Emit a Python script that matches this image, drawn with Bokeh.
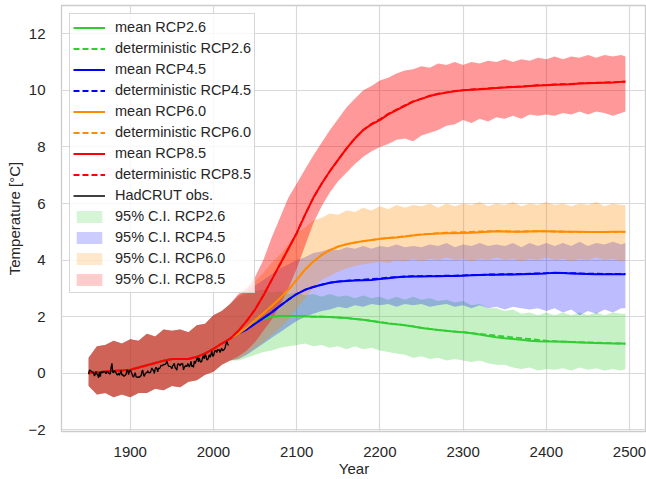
from bokeh.plotting import figure
from bokeh.models import Legend, LegendItem, FixedTicker, Range1d
from bokeh.embed import file_html
from bokeh.resources import INLINE

# ---------------- data ----------------
hist_years = list(range(1850, 2030, 10))
fut_years = list(range(2030, 2500, 10)) + [2495]

hist_mean = [0.0, 0.03, 0.06, 0.08, 0.1, 0.12, 0.2, 0.28, 0.36, 0.44,
             0.5, 0.5, 0.5, 0.58, 0.7, 0.86, 1.05, 1.22]
hist_upper = [0.55, 0.95, 1.0, 1.15, 1.05, 1.2, 1.15, 1.4, 1.3, 1.55,
              1.5, 1.55, 1.45, 1.7, 1.75, 2.05, 2.2, 2.45]
hist_lower = [-0.45, -0.75, -0.7, -0.85, -0.75, -0.85, -0.7, -0.7, -0.55, -0.6,
              -0.45, -0.5, -0.3, -0.25, -0.05, 0.05, 0.3, 0.45]

rcp26_mean = [1.4, 1.6, 1.78, 1.92, 2.0, 2.02, 2.02, 2.02,
              2.01, 2.0, 2.0, 1.99, 1.97, 1.95, 1.92, 1.89, 1.85, 1.8,
              1.76, 1.73, 1.7, 1.65, 1.6, 1.56, 1.53, 1.5, 1.47, 1.45,
              1.41, 1.37, 1.32, 1.27, 1.24, 1.21, 1.18, 1.15, 1.13, 1.12,
              1.12, 1.11, 1.1, 1.09, 1.08, 1.07, 1.06, 1.05, 1.05, 1.04]
rcp26_det = [1.4, 1.6, 1.78, 1.92, 2.0, 2.02, 2.03, 2.02,
             2.01, 2.0, 2.0, 1.99, 1.97, 1.95, 1.92, 1.89, 1.85, 1.81,
             1.77, 1.73, 1.7, 1.66, 1.61, 1.57, 1.53, 1.5, 1.48, 1.45,
             1.42, 1.39, 1.36, 1.33, 1.3, 1.27, 1.24, 1.21, 1.18, 1.15,
             1.13, 1.12, 1.11, 1.1, 1.09, 1.08, 1.07, 1.06, 1.05, 1.05]
rcp26_upper = [2.7, 2.8, 2.9, 2.95, 2.85, 2.9, 2.8, 2.85,
               2.75, 2.8, 2.7, 2.8, 2.7, 2.75, 2.65, 2.75, 2.65, 2.7,
               2.6, 2.7, 2.6, 2.7, 2.6, 2.65, 2.55, 2.6, 2.5, 2.55,
               2.4, 2.45, 2.3, 2.3, 2.2, 2.25, 2.1, 2.15, 2.05, 2.15,
               2.05, 2.15, 2.05, 2.15, 2.05, 2.15, 2.05, 2.15, 2.1, 2.1]
rcp26_lower = [0.45, 0.55, 0.65, 0.75, 0.8, 0.9, 0.95, 1.0,
               1.05, 0.95, 1.0, 0.9, 0.95, 0.85, 0.95, 0.85, 0.9, 0.8,
               0.75, 0.7, 0.65, 0.55, 0.6, 0.5, 0.55, 0.45, 0.5, 0.45,
               0.4, 0.45, 0.35, 0.3, 0.3, 0.2, 0.15, 0.2, 0.1, 0.15,
               0.12, 0.18, 0.1, 0.2, 0.12, 0.18, 0.1, 0.15, 0.1, 0.15]

rcp45_mean = [1.4, 1.55, 1.75, 1.95, 2.15, 2.38, 2.6, 2.8,
              2.95, 3.05, 3.13, 3.2, 3.24, 3.26, 3.28, 3.29, 3.3, 3.33,
              3.36, 3.39, 3.41, 3.42, 3.42, 3.43, 3.43, 3.44, 3.44, 3.45,
              3.46, 3.47, 3.48, 3.48, 3.49, 3.49, 3.5, 3.51, 3.52, 3.53,
              3.55, 3.54, 3.53, 3.52, 3.51, 3.5, 3.5, 3.5, 3.5, 3.5]
rcp45_det = [1.4, 1.55, 1.75, 1.95, 2.15, 2.38, 2.6, 2.8,
             2.95, 3.05, 3.13, 3.2, 3.24, 3.27, 3.29, 3.31, 3.33, 3.35,
             3.38, 3.4, 3.42, 3.43, 3.43, 3.44, 3.44, 3.45, 3.45, 3.46,
             3.47, 3.48, 3.49, 3.49, 3.5, 3.5, 3.51, 3.52, 3.53, 3.54,
             3.55, 3.55, 3.54, 3.53, 3.52, 3.52, 3.51, 3.51, 3.51, 3.51]
rcp45_upper = [2.75, 2.9, 3.1, 3.3, 3.5, 3.7, 3.85, 4.0,
               4.1, 4.25, 4.3, 4.4, 4.35, 4.45, 4.4, 4.5, 4.4, 4.5,
               4.45, 4.55, 4.45, 4.5, 4.45, 4.55, 4.5, 4.6, 4.45, 4.55,
               4.5, 4.6, 4.5, 4.55, 4.5, 4.6, 4.45, 4.6, 4.5, 4.6,
               4.5, 4.6, 4.5, 4.65, 4.5, 4.6, 4.55, 4.65, 4.55, 4.6]
rcp45_lower = [0.5, 0.65, 0.85, 1.05, 1.25, 1.45, 1.65, 1.85,
               2.0, 2.1, 2.2, 2.25, 2.35, 2.3, 2.4, 2.35, 2.45, 2.4,
               2.45, 2.35, 2.45, 2.4, 2.45, 2.35, 2.4, 2.45, 2.35, 2.4,
               2.3, 2.4, 2.3, 2.35, 2.25, 2.35, 2.3, 2.25, 2.3, 2.2,
               2.3, 2.15, 2.25, 2.05, 2.2, 2.1, 2.25, 2.15, 2.3, 2.3]

rcp60_mean = [1.4, 1.62, 1.87, 2.12, 2.38, 2.65, 2.95, 3.3,
              3.66, 3.95, 4.18, 4.35, 4.48, 4.56, 4.62, 4.67, 4.71, 4.75,
              4.78, 4.8, 4.83, 4.87, 4.9, 4.92, 4.94, 4.95, 4.95, 4.96,
              4.97, 4.98, 5.0, 5.02, 5.01, 5.0, 5.0, 5.01, 5.02, 5.02,
              5.01, 5.0, 5.0, 5.0, 4.99, 4.99, 4.99, 5.0, 5.0, 5.0]
rcp60_det = [1.4, 1.62, 1.87, 2.12, 2.38, 2.65, 2.95, 3.3,
             3.66, 3.95, 4.18, 4.35, 4.48, 4.56, 4.62, 4.67, 4.71, 4.75,
             4.78, 4.81, 4.84, 4.88, 4.91, 4.93, 4.95, 4.97, 4.98, 4.99,
             5.0, 5.01, 5.02, 5.03, 5.02, 5.01, 5.01, 5.02, 5.02, 5.02,
             5.01, 5.01, 5.0, 5.0, 5.0, 5.0, 5.0, 5.0, 5.0, 5.0]
rcp60_upper = [2.75, 2.95, 3.25, 3.55, 3.9, 4.2, 4.55, 4.95,
               5.15, 5.4, 5.5, 5.65, 5.6, 5.75, 5.7, 5.85, 5.75, 5.9,
               5.8, 5.95, 5.85, 5.95, 5.9, 6.0, 5.85, 6.0, 5.9, 6.0,
               5.95, 6.05, 5.9, 6.0, 5.95, 6.05, 5.9, 6.0, 5.95, 6.05,
               5.95, 6.0, 5.9, 6.0, 5.95, 6.05, 5.9, 6.0, 5.95, 5.95]
rcp60_lower = [0.5, 0.7, 0.9, 1.1, 1.35, 1.6, 1.9, 2.3,
               2.65, 3.0, 3.3, 3.45, 3.6, 3.7, 3.8, 3.85, 3.9, 3.95,
               3.9, 4.0, 3.95, 4.05, 3.95, 4.05, 4.0, 4.1, 4.0, 4.05,
               3.95, 4.05, 4.0, 4.1, 4.0, 4.05, 3.95, 4.05, 4.0, 4.1,
               4.0, 4.05, 3.95, 4.05, 4.0, 4.1, 4.0, 4.05, 3.95, 4.0]

rcp85_mean = [1.5, 1.85, 2.25, 2.75, 3.3, 3.85, 4.4, 4.95,
              5.6, 6.2, 6.7, 7.15, 7.55, 7.95, 8.3, 8.6, 8.8, 8.95,
              9.15, 9.3, 9.45, 9.6, 9.7, 9.8, 9.87, 9.92, 9.97, 10.0,
              10.02, 10.04, 10.06, 10.08, 10.1, 10.12, 10.13, 10.15, 10.17, 10.18,
              10.2, 10.21, 10.22, 10.24, 10.25, 10.26, 10.27, 10.28, 10.3, 10.3]
rcp85_det = [1.5, 1.85, 2.25, 2.75, 3.3, 3.85, 4.4, 4.95,
             5.6, 6.2, 6.7, 7.15, 7.55, 7.95, 8.3, 8.6, 8.82, 8.98,
             9.17, 9.32, 9.47, 9.61, 9.71, 9.81, 9.88, 9.93, 9.98, 10.01,
             10.03, 10.05, 10.07, 10.09, 10.11, 10.13, 10.14, 10.16, 10.18, 10.19,
             10.21, 10.22, 10.23, 10.25, 10.26, 10.27, 10.28, 10.29, 10.3, 10.31]
rcp85_upper = [2.8, 3.0, 3.4, 4.0, 4.8, 5.5, 6.2, 6.7,
               7.2, 7.7, 8.15, 8.6, 9.0, 9.4, 9.7, 10.0, 10.15, 10.35,
               10.45, 10.6, 10.7, 10.75, 10.85, 10.8, 10.95, 10.9, 11.0, 10.9,
               11.0, 10.95, 11.05, 11.0, 11.1, 11.0, 11.1, 11.05, 11.15, 11.1,
               11.2, 11.1, 11.2, 11.15, 11.25, 11.15, 11.25, 11.2, 11.25, 11.2]
rcp85_lower = [0.6, 0.8, 1.1, 1.5, 1.9, 2.4, 3.0, 3.7,
               4.5, 5.3, 5.9, 6.4, 6.8, 7.1, 7.4, 7.65, 7.85, 8.0,
               8.1, 8.25, 8.3, 8.2, 8.4, 8.5, 8.6, 8.75, 8.8, 8.95,
               8.85, 9.0, 8.9, 9.05, 9.0, 9.1, 9.0, 9.15, 9.1, 9.15,
               9.1, 9.2, 9.15, 9.25, 9.15, 9.25, 9.2, 9.1, 9.2, 9.25]

obs_years = list(range(1850, 2019))
obs_temp = [-0.02, 0.11, 0.10, 0.07, 0.05, 0.04, 0.02, -0.10, -0.03, 0.06,
            -0.03, -0.07, -0.16, 0.04, -0.12, 0.05, 0.04, 0.02, 0.06, 0.06,
            0.04, -0.02, 0.06, 0.06, 0.01, -0.02, -0.02, 0.21, 0.35, 0.04,
            0.02, 0.10, 0.05, 0.01, -0.05, -0.06, 0.01, -0.07, 0.01, 0.10,
            -0.07, -0.04, -0.10, -0.10, -0.07, -0.04, 0.11, 0.10, -0.05, 0.06,
            0.11, 0.06, -0.02, -0.10, -0.14, -0.05, 0.02, -0.12, -0.14, -0.15,
            -0.12, -0.15, -0.10, -0.09, 0.06, 0.11, -0.07, -0.11, -0.01, 0.01,
            0.02, 0.09, 0.02, 0.02, 0.02, 0.09, 0.19, 0.11, 0.11, -0.01,
            0.16, 0.21, 0.16, 0.05, 0.19, 0.16, 0.20, 0.28, 0.27, 0.27,
            0.32, 0.30, 0.32, 0.34, 0.43, 0.34, 0.25, 0.24, 0.24, 0.22,
            0.16, 0.26, 0.29, 0.35, 0.19, 0.17, 0.11, 0.32, 0.33, 0.31,
            0.26, 0.34, 0.32, 0.34, 0.12, 0.21, 0.25, 0.27, 0.23, 0.34,
            0.31, 0.22, 0.30, 0.42, 0.23, 0.28, 0.21, 0.43, 0.34, 0.42,
            0.50, 0.55, 0.40, 0.54, 0.42, 0.39, 0.43, 0.56, 0.62, 0.51,
            0.66, 0.62, 0.47, 0.48, 0.55, 0.66, 0.56, 0.66, 0.79, 0.60,
            0.61, 0.73, 0.80, 0.80, 0.73, 0.84, 0.81, 0.83, 0.73, 0.83,
            0.88, 0.79, 0.82, 0.84, 0.90, 1.03, 1.12, 1.04, 0.98]

x_ticks = [1900, 2000, 2100, 2200, 2300, 2400, 2500]
y_ticks = [-2, 0, 2, 4, 6, 8, 10, 12]

scenarios = ["RCP2.6", "RCP4.5", "RCP6.0", "RCP8.5"]
colors = ["#32cd32", "#0000ff", "#ff8c00", "#ff0000"]
ensemble_alpha = [0.1, 0.08, 0.13, 0.25]

# ---------------- figure ----------------
FONT = "Liberation Sans"
p = figure(width=646, height=479, output_backend="svg", toolbar_location=None,
           x_range=Range1d(1817.4, 2520.4), y_range=Range1d(-2.06, 13.0))
p.min_border_left = 61
p.min_border_right = 0
p.min_border_top = 5
p.min_border_bottom = 47
p.background_fill_color = "white"
p.border_fill_color = "white"
p.outline_line_color = "#cccccc"
p.outline_line_width = 1.3

for ax in (p.xaxis[0], p.yaxis[0]):
    ax.axis_line_color = None
    ax.major_tick_line_color = None
    ax.minor_tick_line_color = None
    ax.major_label_text_font = FONT
    ax.major_label_text_font_size = "15px"
    ax.major_label_text_color = "#262626"
    ax.axis_label_text_font = FONT
    ax.axis_label_text_font_size = "15px"
    ax.axis_label_text_font_style = "normal"
    ax.axis_label_text_color = "#262626"
p.xaxis[0].ticker = FixedTicker(ticks=x_ticks)
p.yaxis[0].ticker = FixedTicker(ticks=y_ticks)
p.yaxis[0].major_label_overrides = {-2: "\u22122"}
p.xaxis[0].axis_label = "Year"
p.yaxis[0].axis_label = "Temperature [\u00b0C]"
p.xaxis[0].major_label_standoff = 9
p.xaxis[0].axis_label_standoff = 0
p.yaxis[0].major_label_standoff = 10
p.yaxis[0].axis_label_standoff = 2
p.grid.grid_line_color = "#d9d9d9"
p.grid.grid_line_width = 1.2

means = [rcp26_mean, rcp45_mean, rcp60_mean, rcp85_mean]
dets = [rcp26_det, rcp45_det, rcp60_det, rcp85_det]
uppers = [rcp26_upper, rcp45_upper, rcp60_upper, rcp85_upper]
lowers = [rcp26_lower, rcp45_lower, rcp60_lower, rcp85_lower]
years = hist_years + fut_years

# bands: 95% C.I. (legend) + ensemble shading
band_legend = []
for i in range(4):
    lo = hist_lower + lowers[i]
    hi = hist_upper + uppers[i]
    rb = p.varea(x=years, y1=lo, y2=hi, fill_color=colors[i], fill_alpha=0.2)
    p.varea(x=years, y1=lo, y2=hi, fill_color=colors[i], fill_alpha=ensemble_alpha[i])
    band_legend.append(LegendItem(label="95% C.I. " + scenarios[i], renderers=[rb]))

# lines
line_legend = []
for i in range(4):
    rm = p.line(years, hist_mean + means[i], line_color=colors[i], line_width=2)
    rd = p.line(years, hist_mean + dets[i], line_color=colors[i], line_width=1.8,
                line_dash="6 3")
    line_legend.append(LegendItem(label="mean " + scenarios[i], renderers=[rm]))
    line_legend.append(LegendItem(label="deterministic " + scenarios[i], renderers=[rd]))

ro = p.line(obs_years, obs_temp, line_color="black", line_width=1.3)

items = line_legend + [LegendItem(label="HadCRUT obs.", renderers=[ro])] + band_legend
legend = Legend(items=items, location="top_left")
legend.label_text_font = FONT
legend.label_text_font_size = "14.5px"
legend.label_text_color = "#262626"
legend.glyph_width = 32
legend.glyph_height = 15
legend.label_height = 20
legend.spacing = 1
legend.padding = 3
legend.margin = 8
legend.label_standoff = 10
legend.background_fill_color = "white"
legend.background_fill_alpha = 0.8
legend.border_line_color = "#cccccc"
legend.border_line_alpha = 0.8
legend.border_line_width = 1
p.add_layout(legend)

open("out.html", "w").write(file_html(p, INLINE))
